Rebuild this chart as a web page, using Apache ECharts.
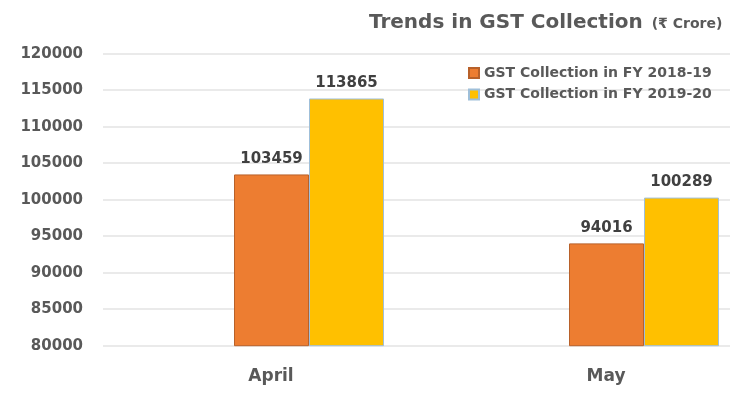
<!DOCTYPE html>
<html><head><meta charset="utf-8">
<script src="https://cdn.jsdelivr.net/npm/echarts@6/dist/echarts.min.js"></script>
<style>html,body{margin:0;padding:0;background:#fff}#c{width:750px;height:400px}</style>
</head><body><div id="c"></div>
<script>
const categories = ['April', 'May'];
const seriesNames = ['GST Collection in FY 2018-19', 'GST Collection in FY 2019-20'];
const fy2018_19 = [103459, 94016];
const fy2019_20 = [113865, 100289];
const yMin = 80000, yMax = 120000, yStep = 5000;

const FONT = 'DejaVu Sans';
const chart = echarts.init(document.getElementById('c'), null, {renderer: 'canvas'});
const labelStyle = {
  show: true, position: 'top', distance: 8,
  fontFamily: FONT, fontWeight: 'bold', fontSize: 15, color: '#404040'
};
chart.setOption({
  backgroundColor: '#ffffff',
  animation: false,
  title: {
    text: '{a|Trends in GST Collection} {b|(₹ Crore)}',
    left: 364, top: 8,
    textStyle: {
      rich: {
        a: {fontFamily: FONT, fontWeight: 'bold', fontSize: 20, color: '#595959'},
        b: {fontFamily: FONT, fontWeight: 'bold', fontSize: 14, color: '#595959', padding: [3, 0, 0, 4]}
      }
    }
  },
  legend: {
    orient: 'vertical', left: 463, top: 61,
    itemWidth: 10, itemHeight: 10, itemGap: 7.5,
    icon: 'rect',
    data: seriesNames,
    textStyle: {fontFamily: FONT, fontWeight: 'bold', fontSize: 14, color: '#595959', lineHeight: 14}
  },
  grid: [
    {left: 103, right: 20, top: 53.7, height: 292, outerBoundsMode: 'none'},
    {left: 141.5, width: 670, top: 53.7, height: 292, outerBoundsMode: 'none'}
  ],
  xAxis: [
    {gridIndex: 0, type: 'category', data: categories, show: false},
    {gridIndex: 1, type: 'category', data: categories,
      axisLine: {show: false}, axisTick: {show: false},
      axisLabel: {margin: 22, padding: [0, 76, 0, 0], fontFamily: FONT, fontWeight: 'bold', fontSize: 17, color: '#595959'}}
  ],
  yAxis: [
    {gridIndex: 0, type: 'value', min: yMin, max: yMax, interval: yStep,
      axisLine: {show: false}, axisTick: {show: false},
      axisLabel: {margin: 20, formatter: v => String(v), fontFamily: FONT, fontWeight: 'bold', fontSize: 15, color: '#595959'},
      splitLine: {lineStyle: {color: '#e3e3e3', width: 1.5}}},
    {gridIndex: 1, type: 'value', min: yMin, max: yMax, interval: yStep, show: false,
      splitLine: {show: false}}
  ],
  series: [
    {name: seriesNames[0], type: 'bar', xAxisIndex: 1, yAxisIndex: 1, data: fy2018_19,
      barWidth: 75, barGap: '0%',
      itemStyle: {color: '#ED7D31', borderColor: '#B8612A', borderWidth: 1},
      label: labelStyle},
    {name: seriesNames[1], type: 'bar', xAxisIndex: 1, yAxisIndex: 1, data: fy2019_20,
      barWidth: 75, barGap: '0%',
      itemStyle: {color: '#FFC000', borderColor: '#9FBFD9', borderWidth: 1},
      label: labelStyle}
  ]
});
</script></body></html>
